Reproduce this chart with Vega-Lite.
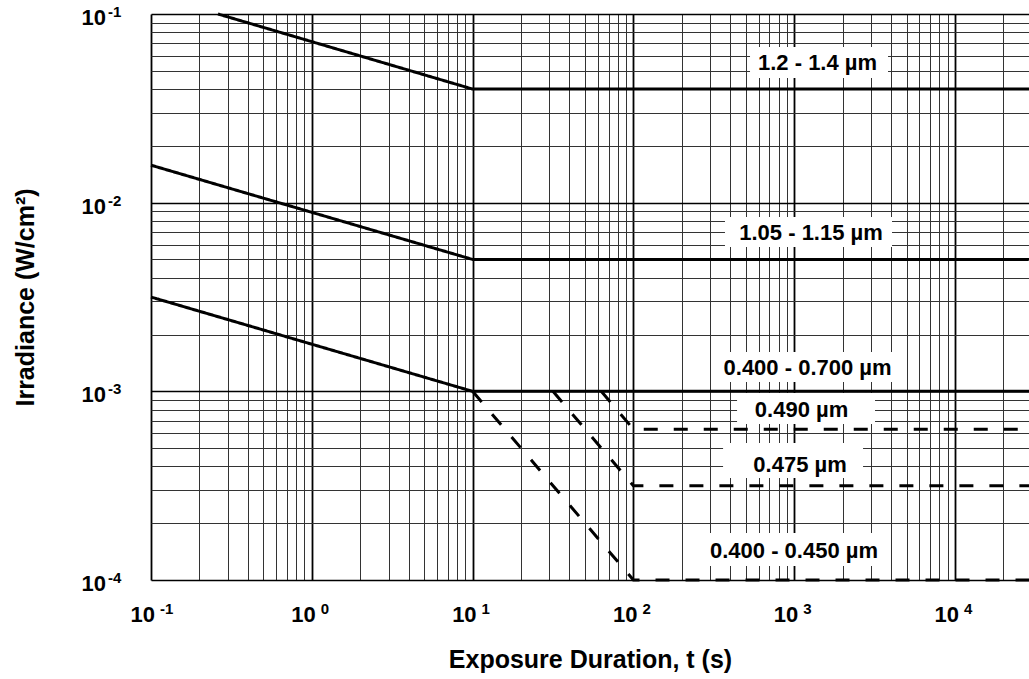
{
  "$schema": "https://vega.github.io/schema/vega-lite/v6.json",
  "width": 878,
  "height": 566,
  "autosize": {"type": "none"},
  "padding": {"left": 151, "top": 14, "right": 0, "bottom": 99},
  "background": "white",
  "config": {"view": {"stroke": null}, "font": "Liberation Sans"},
  "datasets": {
    "curves": [
      {"series": "1.2 - 1.4 µm", "style": "solid", "t": 0.261, "E": 0.1},
      {"series": "1.2 - 1.4 µm", "style": "solid", "t": 10, "E": 0.04},
      {"series": "1.2 - 1.4 µm", "style": "solid", "t": 28840, "E": 0.04},
      {"series": "1.05 - 1.15 µm", "style": "solid", "t": 0.1, "E": 0.0158},
      {"series": "1.05 - 1.15 µm", "style": "solid", "t": 10, "E": 0.005},
      {"series": "1.05 - 1.15 µm", "style": "solid", "t": 28840, "E": 0.005},
      {"series": "0.400 - 0.700 µm", "style": "solid", "t": 0.1, "E": 0.00316},
      {"series": "0.400 - 0.700 µm", "style": "solid", "t": 10, "E": 0.001},
      {"series": "0.400 - 0.700 µm", "style": "solid", "t": 28840, "E": 0.001},
      {"series": "0.490 µm", "style": "dashed", "t": 63.1, "E": 0.001},
      {"series": "0.490 µm", "style": "dashed", "t": 100, "E": 0.00063},
      {"series": "0.490 µm", "style": "dashed", "t": 28840, "E": 0.00063},
      {"series": "0.475 µm", "style": "dashed", "t": 31.6, "E": 0.001},
      {"series": "0.475 µm", "style": "dashed", "t": 100, "E": 0.000316},
      {"series": "0.475 µm", "style": "dashed", "t": 28840, "E": 0.000316},
      {"series": "0.400 - 0.450 µm", "style": "dashed", "t": 10, "E": 0.001},
      {"series": "0.400 - 0.450 µm", "style": "dashed", "t": 100, "E": 0.0001},
      {"series": "0.400 - 0.450 µm", "style": "dashed", "t": 28840, "E": 0.0001}
    ],
    "labels": [
      {"label": "1.2 - 1.4 µm", "tx": 1396, "ty": 0.05498, "x0": 531, "x1": 3831, "y0": 0.06684, "y1": 0.04578},
      {"label": "1.05 - 1.15 µm", "tx": 1272, "ty": 0.006948, "x0": 371, "x1": 4057, "y0": 0.00839, "y1": 0.00582},
      {"label": "0.400 - 0.700 µm", "tx": 1210, "ty": 0.001322, "x0": 308, "x1": 4682, "y0": 0.001616, "y1": 0.00112},
      {"label": "0.490 µm", "tx": 1110, "ty": 0.000796, "x0": 441, "x1": 3180, "y0": 0.00098, "y1": 0.000671},
      {"label": "0.475 µm", "tx": 1087, "ty": 0.000407, "x0": 361, "x1": 2679, "y0": 0.000532, "y1": 0.000347},
      {"label": "0.400 - 0.450 µm", "tx": 997, "ty": 0.0001425, "x0": 252, "x1": 3943, "y0": 0.0001775, "y1": 0.0001187}
    ],
    "xticks": [
      {"t": 0.1, "exp": "-1"},
      {"t": 1, "exp": "0"},
      {"t": 10, "exp": "1"},
      {"t": 100, "exp": "2"},
      {"t": 1000, "exp": "3"},
      {"t": 10000, "exp": "4"}
    ],
    "yticks": [
      {"E": 0.1, "exp": "-1"},
      {"E": 0.01, "exp": "-2"},
      {"E": 0.001, "exp": "-3"},
      {"E": 0.0001, "exp": "-4"}
    ]
  },
  "layer": [
    {
      "data": {"name": "labels"},
      "mark": {"type": "rect", "fill": "white"},
      "encoding": {
        "x": {"field": "x0", "type": "quantitative", "scale": {"type": "log", "domain": [0.1, 28840], "nice": false}},
        "x2": {"field": "x1"},
        "y": {"field": "y0", "type": "quantitative", "scale": {"type": "log", "domain": [0.0001, 0.1], "nice": false}},
        "y2": {"field": "y1"}
      }
    },
    {
      "data": {"name": "curves"},
      "mark": {"type": "line", "color": "#000000", "strokeWidth": 3},
      "encoding": {
        "x": {
          "field": "t", "type": "quantitative",
          "scale": {"type": "log", "domain": [0.1, 28840], "nice": false},
          "axis": {
            "values": [0.1,0.2,0.3,0.4,0.5,0.6,0.7,0.8,0.9,1,2,3,4,5,6,7,8,9,10,20,30,40,50,60,70,80,90,100,200,300,400,500,600,700,800,900,1000,2000,3000,4000,5000,6000,7000,8000,9000,10000,20000],
            "labels": false,
            "grid": true,
            "gridColor": {"condition": {"test": "abs(log(datum.value)/LN10 - round(log(datum.value)/LN10)) < 0.000001", "value": "#000000"}, "value": "#333333"},
            "gridWidth": {"condition": {"test": "abs(log(datum.value)/LN10 - round(log(datum.value)/LN10)) < 0.000001", "value": 1.8}, "value": 1},
            "gridOpacity": 1,
            "domain": false,
            "ticks": false,
            "tickSize": 0,
            "title": "Exposure Duration, t (s)",
            "titleFont": "Liberation Sans",
            "titleFontSize": 25,
            "titleFontWeight": "bold",
            "titleColor": "#000000",
            "titleBaseline": "alphabetic",
            "titleY": 87
          }
        },
        "y": {
          "field": "E", "type": "quantitative",
          "scale": {"type": "log", "domain": [0.0001, 0.1], "nice": false},
          "axis": {
            "values": [0.0001,0.0002,0.0003,0.0004,0.0005,0.0006,0.0007,0.0008,0.0009,0.001,0.002,0.003,0.004,0.005,0.006,0.007,0.008,0.009,0.01,0.02,0.03,0.04,0.05,0.06,0.07,0.08,0.09,0.1],
            "labels": false,
            "grid": true,
            "gridColor": {"condition": {"test": "abs(log(datum.value)/LN10 - round(log(datum.value)/LN10)) < 0.000001", "value": "#000000"}, "value": "#333333"},
            "gridWidth": {"condition": {"test": "abs(log(datum.value)/LN10 - round(log(datum.value)/LN10)) < 0.000001", "value": 1.6}, "value": 1},
            "gridOpacity": 1,
            "domain": false,
            "ticks": false,
            "tickSize": 0,
            "title": "Irradiance (W/cm²)",
            "titleFont": "Liberation Sans",
            "titleFontSize": 25,
            "titleFontWeight": "bold",
            "titleColor": "#000000",
            "titleAngle": -90,
            "titleAlign": "center",
            "titleBaseline": "alphabetic",
            "titleX": -118,
            "titleY": 283
          }
        },
        "detail": {"field": "series"},
        "strokeDash": {"field": "style", "type": "nominal", "scale": {"domain": ["solid", "dashed"], "range": [[1, 0], [14, 16]]}, "legend": null}
      }
    },
    {
      "data": {"name": "labels"},
      "mark": {"type": "text", "font": "Liberation Sans", "fontSize": 22, "fontWeight": "bold", "color": "#000000", "align": "center", "baseline": "middle"},
      "encoding": {
        "x": {"field": "tx", "type": "quantitative", "scale": {"type": "log", "domain": [0.1, 28840], "nice": false}},
        "y": {"field": "ty", "type": "quantitative", "scale": {"type": "log", "domain": [0.0001, 0.1], "nice": false}},
        "text": {"field": "label"}
      }
    },
    {
      "data": {"name": "xticks"},
      "mark": {"type": "text", "text": "10", "font": "Liberation Sans", "fontSize": 22, "fontWeight": "bold", "color": "#000000", "align": "right", "baseline": "alphabetic", "dx": 4, "dy": 42},
      "encoding": {
        "x": {"field": "t", "type": "quantitative", "scale": {"type": "log", "domain": [0.1, 28840], "nice": false}},
        "y": {"datum": 0.0001, "type": "quantitative", "scale": {"type": "log", "domain": [0.0001, 0.1], "nice": false}}
      }
    },
    {
      "data": {"name": "xticks"},
      "mark": {"type": "text", "font": "Liberation Sans", "fontSize": 15, "fontWeight": "bold", "color": "#000000", "align": "left", "baseline": "alphabetic", "dx": 9, "dy": 34},
      "encoding": {
        "x": {"field": "t", "type": "quantitative", "scale": {"type": "log", "domain": [0.1, 28840], "nice": false}},
        "y": {"datum": 0.0001, "type": "quantitative", "scale": {"type": "log", "domain": [0.0001, 0.1], "nice": false}},
        "text": {"field": "exp"}
      }
    },
    {
      "data": {"name": "yticks"},
      "mark": {"type": "text", "text": "10", "font": "Liberation Sans", "fontSize": 22, "fontWeight": "bold", "color": "#000000", "align": "right", "baseline": "alphabetic", "dx": -45, "dy": 11},
      "encoding": {
        "x": {"datum": 0.1, "type": "quantitative", "scale": {"type": "log", "domain": [0.1, 28840], "nice": false}},
        "y": {"field": "E", "type": "quantitative", "scale": {"type": "log", "domain": [0.0001, 0.1], "nice": false}}
      }
    },
    {
      "data": {"name": "yticks"},
      "mark": {"type": "text", "font": "Liberation Sans", "fontSize": 15, "fontWeight": "bold", "color": "#000000", "align": "left", "baseline": "alphabetic", "dx": -43, "dy": 3},
      "encoding": {
        "x": {"datum": 0.1, "type": "quantitative", "scale": {"type": "log", "domain": [0.1, 28840], "nice": false}},
        "y": {"field": "E", "type": "quantitative", "scale": {"type": "log", "domain": [0.0001, 0.1], "nice": false}},
        "text": {"field": "exp"}
      }
    }
  ]
}
